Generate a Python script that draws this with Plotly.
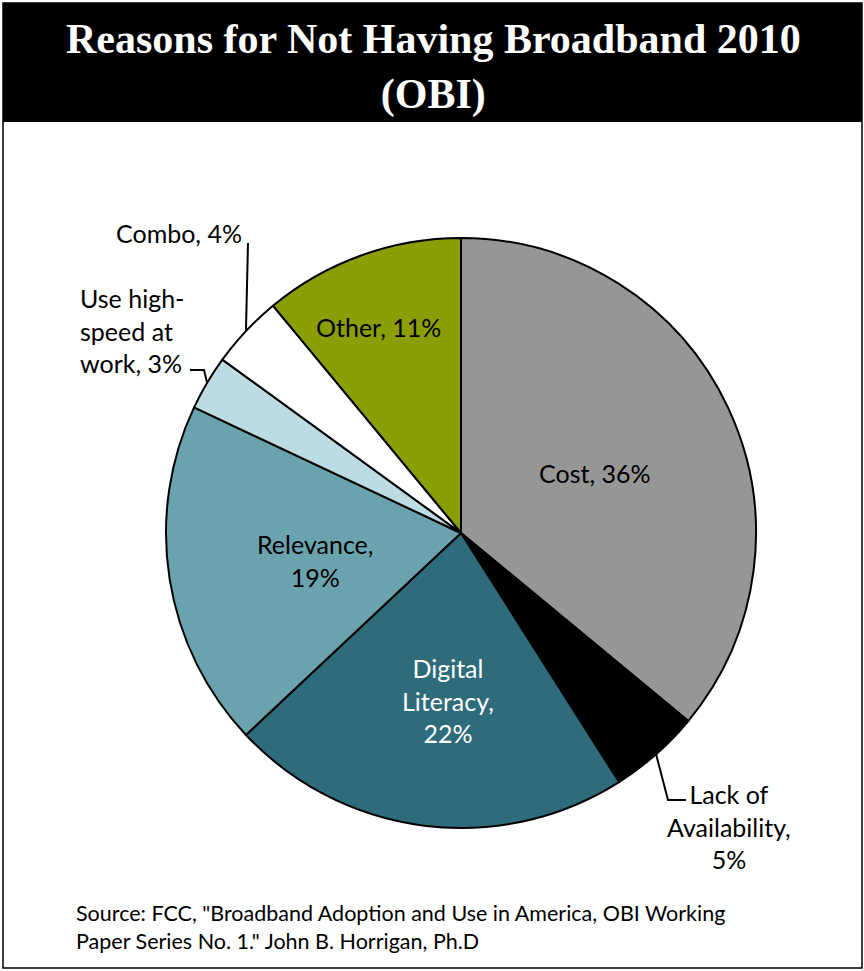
import math
import plotly.graph_objects as go

labels = ["Cost", "Lack of Availability", "Digital Literacy", "Relevance",
          "Use high-speed at work", "Combo", "Other"]
values = [36, 5, 22, 19, 3, 4, 11]
colors = ["#969696", "#000000", "#2e6b7b", "#6aa3ae", "#bcdbe2", "#ffffff", "#8c9e05"]

W, H = 864, 971
CX, CY, R = 461, 533, 295

def px(x):
    return x / W

def py(y):
    return 1 - y / H

fig = go.Figure(go.Pie(
    labels=labels, values=values, sort=False, direction="clockwise", rotation=0,
    marker=dict(colors=colors, line=dict(color="#000000", width=2)),
    textinfo="none", hoverinfo="label+percent", showlegend=False,
    domain=dict(x=[px(CX - R), px(CX + R)], y=[py(CY + R), py(CY - R)]),
))

FONT = "Lato, Calibri, Carlito, sans-serif"
total = sum(values)

def mid_edge(i):
    cum = sum(values[:i]) + values[i] / 2
    a = cum / total * 2 * math.pi
    return CX + R * math.sin(a), CY - R * math.cos(a)

shapes = [
    dict(type="rect", xref="paper", yref="paper", x0=px(3), x1=px(862), y0=py(968), y1=py(3),
         line=dict(color="#000000", width=1.5), fillcolor="rgba(0,0,0,0)", layer="below"),
    dict(type="rect", xref="paper", yref="paper", x0=px(3), x1=px(862), y0=py(122), y1=py(3),
         line=dict(width=0), fillcolor="#000000", layer="below"),
]

def path(points):
    d = "M " + " L ".join(f"{px(x)},{py(y)}" for x, y in points)
    return dict(type="path", xref="paper", yref="paper", path=d,
                line=dict(color="#000000", width=2))

# leader lines
ex, ey = mid_edge(5)
shapes.append(path([(ex, ey), (248, 243)]))
ex, ey = mid_edge(4)
shapes.append(path([(ex, ey), (204, 370), (190, 370)]))
ex, ey = mid_edge(1)
shapes.append(path([(ex, ey), (668, 800), (686, 800)]))

annotations = [
    dict(text="<b>Reasons for Not Having Broadband 2010<br>(OBI)</b>", x=px(433), y=py(67),
         xref="paper", yref="paper", showarrow=False, xanchor="center", yanchor="middle",
         font=dict(family="Liberation Serif, Times New Roman, serif", size=42, color="#ffffff")),
    dict(text="Cost, 36%", x=px(595), y=py(473)),
    dict(text="Other, 11%", x=px(378), y=py(327)),
    dict(text="Relevance,<br>19%", x=px(315), y=py(560)),
    dict(text="Digital<br>Literacy,<br>22%", x=px(448), y=py(700), font=dict(color="#ffffff")),
    dict(text="Combo, 4%", x=px(244), y=py(233), xanchor="right"),
    dict(text="Use high-<br>speed at<br>work, 3%", x=px(78), y=py(330), xanchor="left", align="left"),
    dict(text="Lack of<br>Availability,<br>5%", x=px(729), y=py(826)),
    dict(text="Source: FCC, \"Broadband Adoption and Use in America, OBI Working<br>"
              "Paper Series No. 1.\" John B. Horrigan, Ph.D",
         x=px(74), y=py(927), xanchor="left", align="left", font=dict(size=21.5)),
]
for a in annotations[1:]:
    a.setdefault("xref", "paper")
    a.setdefault("yref", "paper")
    a.setdefault("showarrow", False)
    a.setdefault("xanchor", "center")
    a.setdefault("yanchor", "middle")
    a.setdefault("align", "center")
    f = a.get("font", {})
    f.setdefault("family", FONT)
    f.setdefault("size", 25)
    f.setdefault("color", "#000000")
    a["font"] = f

fig.update_layout(
    width=W, height=H, margin=dict(l=0, r=0, t=0, b=0),
    paper_bgcolor="#ffffff", plot_bgcolor="#ffffff",
    shapes=shapes, annotations=annotations,
)

fig.write_html("out.html", config={"displayModeBar": False},
               post_script="document.body.style.margin='0';document.body.style.overflow='hidden';")
